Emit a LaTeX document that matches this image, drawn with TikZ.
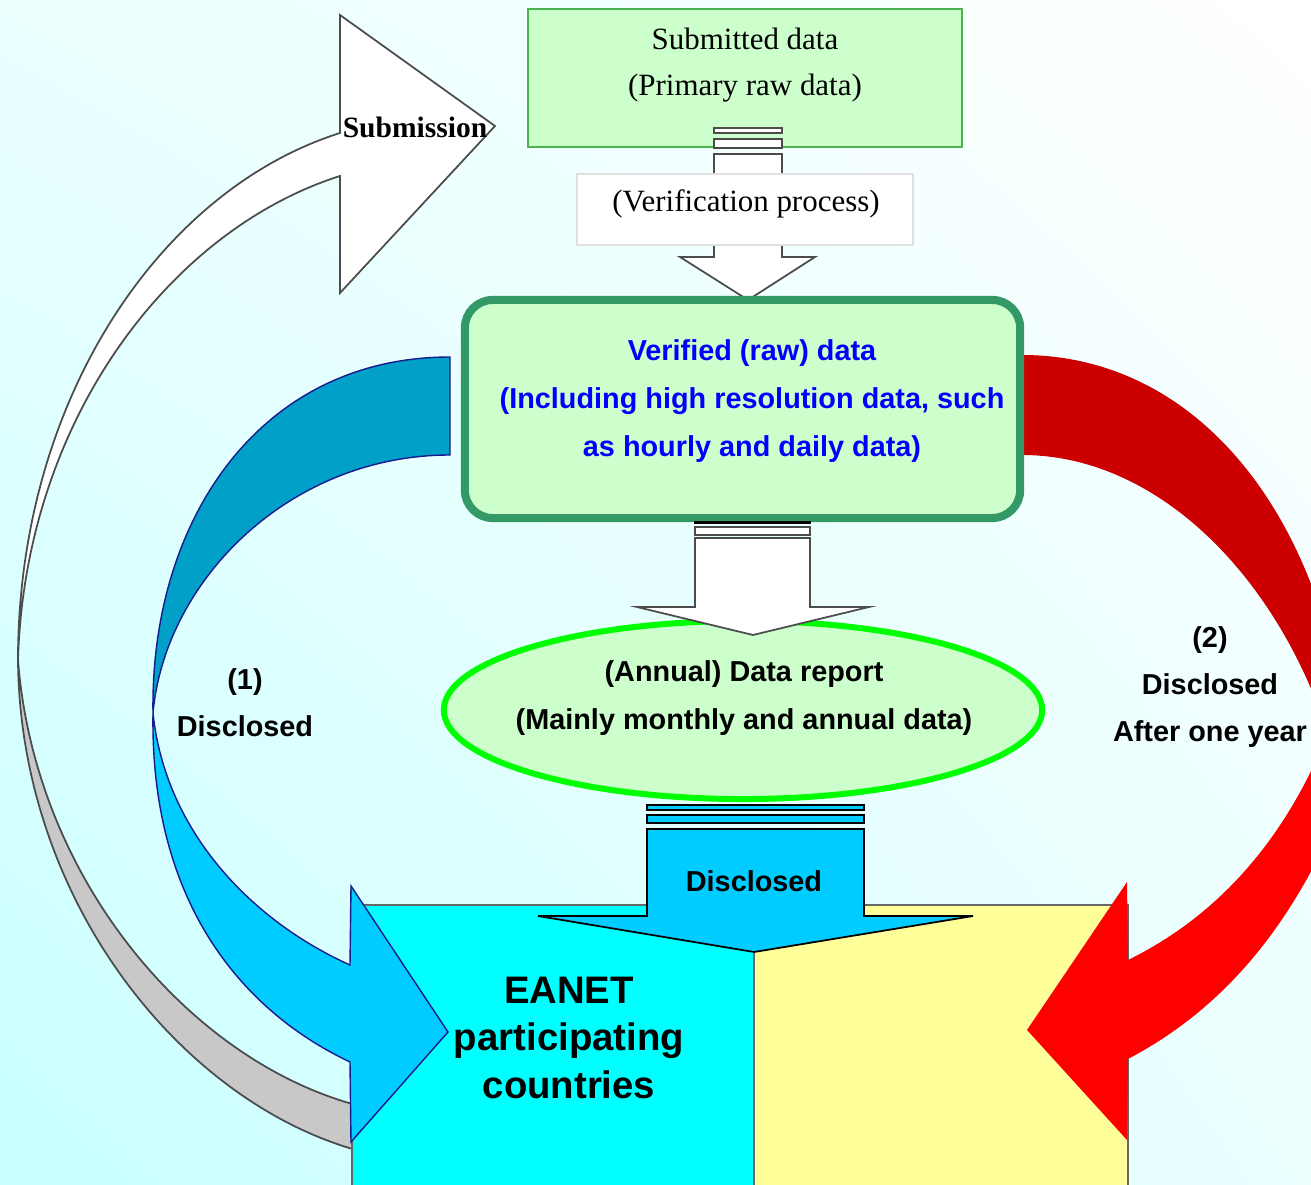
\documentclass[tikz,border=0pt]{standalone}
\usepackage{fontspec}
\setmainfont{Liberation Serif}
\setsansfont{Liberation Sans}
\usetikzlibrary{shapes.geometric,shadings}

\definecolor{palegreen}{HTML}{CCFFCC}
\definecolor{boxgreen}{HTML}{4DB34D}
\definecolor{deepgreen}{HTML}{339966}
\definecolor{limegreen}{HTML}{00FF00}
\definecolor{tealblue}{HTML}{00A0C8}
\definecolor{skyblue}{HTML}{00CCFF}
\definecolor{purecyan}{HTML}{00FFFF}
\definecolor{navyline}{HTML}{1A1A8C}
\definecolor{darkred}{HTML}{CC0000}
\definecolor{brightred}{HTML}{FF0000}
\definecolor{paleyellow}{HTML}{FFFF99}
\definecolor{bandgray}{HTML}{C8C8C8}
\definecolor{bgcyan}{HTML}{C8FFFF}
\definecolor{bgpale}{HTML}{EBFFFF}

\tikzstyle{serif}     = [inner sep=0pt, align=center, font=\fontsize{8.8}{13.1}\selectfont]
\tikzstyle{sans}      = [inner sep=0pt, align=center, font=\sffamily\bfseries\fontsize{8.2}{13.4}\selectfont]
\tikzstyle{sansblue}  = [sans, text=blue, font=\sffamily\bfseries\fontsize{8.2}{13.7}\selectfont]
\tikzstyle{big}       = [inner sep=0pt, align=center, font=\sffamily\bfseries\fontsize{10.9}{13.4}\selectfont]
\tikzstyle{subbox}    = [draw=boxgreen, fill=palegreen, line width=0.45pt, minimum width=4.34cm, minimum height=1.38cm]
\tikzstyle{procbox}   = [draw=black!12, fill=white, line width=0.4pt, minimum width=3.36cm, minimum height=0.71cm]
\tikzstyle{verbox}    = [draw=deepgreen, fill=palegreen, line width=2.3pt, rounded corners=0.28cm, minimum width=5.55cm, minimum height=2.18cm]
\tikzstyle{repoval}   = [ellipse, draw=limegreen, fill=palegreen, line width=1.7pt, minimum width=5.98cm, minimum height=1.78cm]
\tikzstyle{blockarrow}= [draw=black!70, fill=white, line width=0.5pt]
\tikzstyle{skyarrow}  = [draw=black, fill=skyblue, line width=0.5pt]
\tikzstyle{whiteband} = [draw=black!70, fill=white, line width=0.5pt]
\tikzstyle{grayband}  = [draw=black!70, fill=bandgray, line width=0.5pt]
\tikzstyle{blueband}  = [draw=navyline, line width=0.4pt]
\tikzstyle{landbox}   = [draw=black!60, line width=0.5pt]

\begin{document}
\begin{tikzpicture}[x=0.01cm, y=-0.01cm]
  \useasboundingbox (0,0) rectangle (1311,1185);
  \clip (0,0) rectangle (1311,1185);
  \shade[lower left=bgcyan, upper left=bgpale, upper right=white, lower right=bgpale] (0,0) rectangle (1311,1185);

  \draw[grayband] (18,660) .. controls (20,900) and (180,1100) .. (356,1150) -- (356,1105)
    .. controls (190,1060) and (35,880) .. (18,660) -- cycle;
  \draw[whiteband] (18,660) .. controls (18,400) and (160,190) .. (340,133) -- (340,15) -- (495,126)
    -- (340,293) -- (340,176) .. controls (170,230) and (25,420) .. (18,660) -- cycle;

  \draw[blueband, fill=tealblue] (450,357) .. controls (260,357) and (150,520) .. (153,713)
    .. controls (165,580) and (290,455) .. (450,455) -- cycle;

  \draw[landbox, fill=purecyan] (352,905) rectangle (754,1195);
  \draw[landbox, fill=paleyellow] (754,905) rectangle (1128,1195);

  \draw[blueband, fill=skyblue] (153,713) .. controls (150,900) and (240,1010) .. (350,1062)
    -- (351,1142) -- (448,1032) -- (351,886) -- (350,965) .. controls (250,920) and (165,830) .. (153,713) -- cycle;

  \fill[darkred] (1022,355) .. controls (1200,355) and (1330,520) .. (1350,760) -- (1330,740)
    .. controls (1280,580) and (1160,455) .. (1022,455) -- cycle;
  \fill[brightred] (1128,1059) .. controls (1240,1000) and (1310,900) .. (1360,760) -- (1340,700)
    .. controls (1300,820) and (1230,910) .. (1128,960) -- (1127,882) -- (1027,1030) -- (1127,1140) -- cycle;

  \node[subbox] (sub) at (745,78) {};
  \draw[blockarrow] (714,128) rectangle (782,133);
  \draw[blockarrow] (714,139) rectangle (782,148);
  \draw[blockarrow] (714,154) -- (714,257) -- (680,257) -- (748,300) -- (815,257) -- (782,257) -- (782,154) -- cycle;
  \node[procbox] (proc) at (745,209.5) {};
  \node[verbox] (ver) at (742.5,409) {};
  \node[repoval] (rep) at (743,710) {};

  \fill[black] (694,521) rectangle (811,524);
  \draw[blockarrow] (695,527) rectangle (810,535);
  \draw[blockarrow] (695,538) -- (695,607) -- (637,607) -- (753,635) -- (869,607) -- (810,607) -- (810,538) -- cycle;

  \draw[skyarrow] (647,805) rectangle (864,810);
  \draw[skyarrow] (647,815) rectangle (864,823);
  \draw[skyarrow] (647,829) -- (647,916) -- (538,916) -- (754,952) -- (973,916) -- (864,916) -- (864,829) -- cycle;

  \draw
    node[serif] (subtext) at (745,65) {Submitted data\\(Primary raw data)}
    node[serif] (proctext) at (746,204) {(Verification process)}
    node[serif, font=\bfseries\fontsize{8.4}{10}\selectfont] (subm) at (415,127) {Submission}
    node[sansblue] (vertext) at (752,401) {Verified (raw) data\\(Including high resolution data, such\\as hourly and daily data)}
    node[sans] (reptext) at (744,698) {(Annual) Data report\\(Mainly monthly and annual data)}
    node[sans] (disc) at (754,881) {Disclosed}
    node[sans] (first) at (245,703) {(1)\\Disclosed}
    node[sans] (second) at (1210,687) {(2)\\Disclosed\\After one year}
    node[big] (eanet) at (569,1038) {EANET\\participating\\countries};
\end{tikzpicture}
\end{document}
